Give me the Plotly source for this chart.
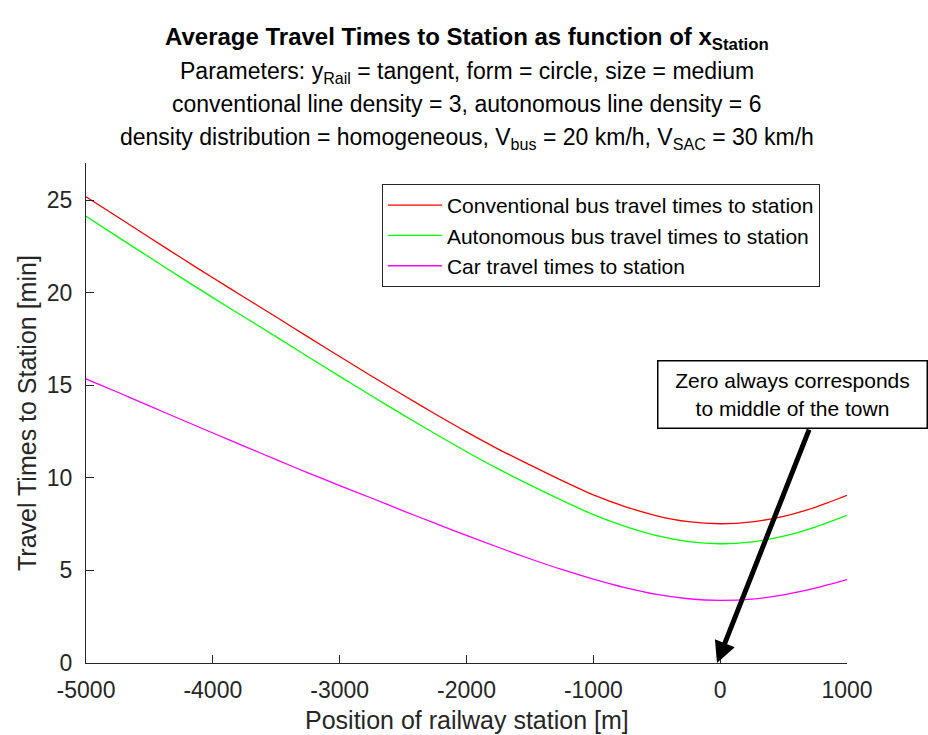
import plotly.graph_objects as go

# ---- data ----
station_position_m = [-5000, -4750, -4500, -4250, -4000, -3750, -3500, -3250, -3000,
                      -2750, -2500, -2250, -2000, -1750, -1500, -1250, -1000, -750,
                      -500, -250, 0, 250, 500, 750, 1000]
conventional_bus_min = [25.18, 24.08, 22.98, 21.88, 20.80, 19.74, 18.68, 17.61, 16.55,
                        15.50, 14.47, 13.46, 12.48, 11.55, 10.70, 9.86, 9.08, 8.45,
                        7.95, 7.63, 7.52, 7.62, 7.92, 8.41, 9.05]
autonomous_bus_min = [24.12, 23.01, 21.91, 20.81, 19.73, 18.67, 17.61, 16.54, 15.48,
                      14.43, 13.40, 12.39, 11.41, 10.48, 9.62, 8.79, 8.01, 7.38,
                      6.88, 6.56, 6.44, 6.54, 6.85, 7.34, 7.97]
car_min = [15.34, 14.62, 13.88, 13.15, 12.42, 11.70, 10.98, 10.27, 9.58,
           8.91, 8.22, 7.55, 6.89, 6.25, 5.63, 5.05, 4.53, 4.07,
           3.70, 3.47, 3.38, 3.45, 3.68, 4.04, 4.50]

x_ticks = [-5000, -4000, -3000, -2000, -1000, 0, 1000]
x_tick_labels = ["-5000", "-4000", "-3000", "-2000", "-1000", "0", "1000"]
y_ticks = [0, 5, 10, 15, 20, 25]
y_tick_labels = ["0", "5", "10", "15", "20", "25"]

series_names = ["Conventional bus travel times to station",
                "Autonomous bus travel times to station",
                "Car travel times to station"]
series_colors = ["#FF0000", "#00FF00", "#FF00FF"]

FONT = "Liberation Sans, Arial, Helvetica, sans-serif"
AX = "#262626"

fig = go.Figure()
for name, vals, col in zip(series_names,
                           [conventional_bus_min, autonomous_bus_min, car_min],
                           series_colors):
    fig.add_trace(go.Scatter(x=station_position_m, y=vals, mode="lines", name=name,
                             line=dict(color=col, width=1.3, shape="spline", smoothing=0.8)))

axis_common = dict(showline=True, linecolor=AX, linewidth=1, mirror=False,
                   ticks="inside", ticklen=8, tickcolor=AX, tickwidth=1,
                   showgrid=False, zeroline=False, automargin=False,
                   tickfont=dict(family=FONT, size=23, color=AX))

fig.update_xaxes(range=[-5000, 1000], tickvals=x_ticks, ticktext=x_tick_labels,
                 ticklabelstandoff=6, **axis_common)
fig.update_yaxes(range=[0, 27], tickvals=y_ticks, ticktext=y_tick_labels,
                 ticklabelstandoff=8, **axis_common)

fig.update_layout(
    width=928, height=735,
    margin=dict(l=86, r=81, t=163, b=72),
    paper_bgcolor="white", plot_bgcolor="white",
    font=dict(family=FONT, color="black"),
    showlegend=True,
    legend=dict(x=(382 - 86) / 761.3, y=(662.5 - 184) / 499.5, xanchor="left", yanchor="top",
                bgcolor="white", bordercolor=AX, borderwidth=1,
                font=dict(family=FONT, size=21, color="black"),
                itemwidth=54, tracegroupgap=0),
)

# axis titles
fig.add_annotation(text="Position of railway station [m]", xref="paper", yref="paper",
                   x=0.5, y=(662.5 - 719) / 499.5, xanchor="center", yanchor="middle",
                   showarrow=False, font=dict(family=FONT, size=25, color=AX))
fig.add_annotation(text="Travel Times to Station [min]", xref="paper", yref="paper",
                   x=(27 - 86) / 761.3, y=0.5, xanchor="center", yanchor="middle",
                   textangle=-90, showarrow=False, font=dict(family=FONT, size=25, color=AX))

titles = [
    ("<b>Average Travel Times to Station as function of x<sub>Station</sub></b>", 39, 24),
    ("Parameters: y<sub>Rail</sub> = tangent, form = circle, size = medium", 73, 23),
    ("conventional line density = 3, autonomous line density = 6", 104, 23),
    ("density distribution = homogeneous, V<sub>bus</sub> = 20 km/h, V<sub>SAC</sub> = 30 km/h", 139, 23),
]
for txt, py, sz in titles:
    fig.add_annotation(text=txt, xref="paper", yref="paper", x=0.5, y=(662.5 - py) / 499.5,
                       xanchor="center", yanchor="middle", showarrow=False,
                       font=dict(family=FONT, size=sz, color="black"))

# text box
fig.add_annotation(text="Zero always corresponds<br>to middle of the town",
                   xref="x", yref="y", x=569, y=14.51, xanchor="center", yanchor="middle",
                   showarrow=False, width=266, height=64, borderpad=1,
                   bgcolor="white", bordercolor="black", borderwidth=1.5,
                   font=dict(family=FONT, size=21, color="black"))
# arrow
fig.add_annotation(text="", xref="x", yref="y", x=-25, y=0,
                   axref="x", ayref="y", ax=706, ay=12.68,
                   showarrow=True, arrowhead=2, arrowsize=0.85, arrowwidth=5,
                   arrowcolor="black", standoff=0, startstandoff=0)

fig.write_html("out.html", config={"displayModeBar": False},
               post_script="document.body.style.margin='0';document.body.style.overflow='hidden';")
